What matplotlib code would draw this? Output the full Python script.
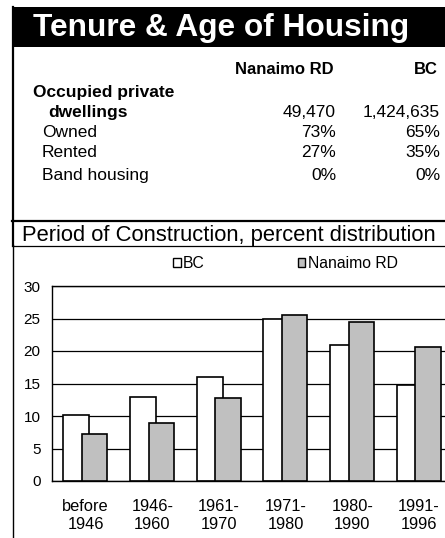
import numpy as np
import matplotlib
matplotlib.use("Agg")
import matplotlib.pyplot as plt
from matplotlib.patches import Rectangle, Patch
from matplotlib.lines import Line2D

plt.rcParams["font.family"] = ["Liberation Sans", "DejaVu Sans"]

# ---------- dados ----------
title = "Tenure & Age of Housing"
col_headers = ["Nanaimo RD", "BC"]
row_labels = ["Owned", "Rented", "Band housing"]
dwellings = ["49,470", "1,424,635"]
nanaimo_pct = ["73%", "27%", "0%"]
bc_pct = ["65%", "35%", "0%"]

chart_title = "Period of Construction, percent distribution"
periods = ["before\n1946", "1946-\n1960", "1961-\n1970", "1971-\n1980", "1980-\n1990", "1991-\n1996"]
bc_vals = [10.1, 12.9, 16.0, 25.0, 20.9, 14.7]
nanaimo_vals = [7.2, 9.0, 12.8, 25.6, 24.4, 20.6]

W, H = 445, 538


def fx(x):
    return x / W


def fy(y):
    return 1 - y / H


fig = plt.figure(figsize=(W / 100, H / 100), dpi=100, facecolor="white")

# ---------- cabeçalho preto ----------
fig.patches.append(Rectangle((fx(12), fy(47)), fx(445) - fx(12), fy(7) - fy(47),
                             transform=fig.transFigure, facecolor="black", edgecolor="none"))
fig.text(fx(221), fy(36), title, color="white", fontsize=22.8, fontweight="bold",
         ha="center", va="baseline")

# ---------- tabela ----------
fs = 12.5
col_x = [336, 440]
for cx, h in zip(col_x, col_headers):
    fig.text(fx(cx - 2), fy(74), h, fontsize=12, fontweight="bold", ha="right", va="baseline")

fig.text(fx(33), fy(97), "Occupied private", fontsize=fs, fontweight="bold", va="baseline")
fig.text(fx(48), fy(117), "dwellings", fontsize=fs, fontweight="bold", va="baseline")
for cx, v in zip(col_x, dwellings):
    fig.text(fx(cx), fy(117), v, fontsize=fs, ha="right", va="baseline")

row_y = [137, 157, 180]
for ry, lab, a, b in zip(row_y, row_labels, nanaimo_pct, bc_pct):
    fig.text(fx(42), fy(ry), lab, fontsize=fs, va="baseline")
    fig.text(fx(col_x[0]), fy(ry), a, fontsize=fs, ha="right", va="baseline")
    fig.text(fx(col_x[1]), fy(ry), b, fontsize=fs, ha="right", va="baseline")

# linhas da moldura
fig.lines.append(Line2D([fx(12.5), fx(12.5)], [fy(7), fy(245)], color="black", lw=1.6,
                        transform=fig.transFigure))
fig.lines.append(Line2D([fx(12.5), fx(12.5)], [fy(245), fy(538)], color="black", lw=1.0,
                        transform=fig.transFigure))
fig.lines.append(Line2D([fx(12), fx(445)], [fy(221), fy(221)], color="black", lw=1.6,
                        transform=fig.transFigure))
fig.lines.append(Line2D([fx(12), fx(445)], [fy(245.5), fy(245.5)], color="black", lw=0.9,
                        transform=fig.transFigure))

fig.text(fx(228.5), fy(241), chart_title, fontsize=15.8, ha="center", va="baseline")

# ---------- gráfico de barras ----------
ax = fig.add_axes([fx(52.3), fy(481), fx(400), fy(286) - fy(481)])
x = np.arange(len(periods))
ax.bar(x - 0.14, bc_vals, width=0.39, color="white", edgecolor="black", lw=1.2, zorder=2)
ax.bar(x + 0.135, nanaimo_vals, width=0.38, color="#c0c0c0", edgecolor="black", lw=1.2, zorder=3)

ax.set_xlim(-0.5, len(periods) - 0.5)
ax.set_ylim(0, 30)
ax.set_yticks(np.arange(0, 31, 5))
ax.set_xticks(x)
ax.set_xticklabels(periods, fontsize=11.8, linespacing=1.25)
ax.tick_params(axis="y", length=0, pad=8.5, labelsize=11)
ax.tick_params(axis="x", length=0, pad=13)
ax.yaxis.grid(True, color="black", lw=0.9)
ax.set_axisbelow(True)
for side in ["left", "bottom", "top"]:
    ax.spines[side].set_color("black")
    ax.spines[side].set_linewidth(1.0)
ax.spines["right"].set_visible(False)

handles = [Patch(facecolor="white", edgecolor="black", lw=1.0),
           Patch(facecolor="#c0c0c0", edgecolor="black", lw=1.0)]
fig.legend(handles, ["BC", "Nanaimo RD"], loc="center left",
           bbox_to_anchor=(fx(173), fy(264)), ncol=2, frameon=False,
           fontsize=11.3, handlelength=0.5, handleheight=0.5, handletextpad=0.15,
           columnspacing=5.9, borderpad=0, borderaxespad=0)

fig.savefig("out.png", dpi=100, facecolor="white")
